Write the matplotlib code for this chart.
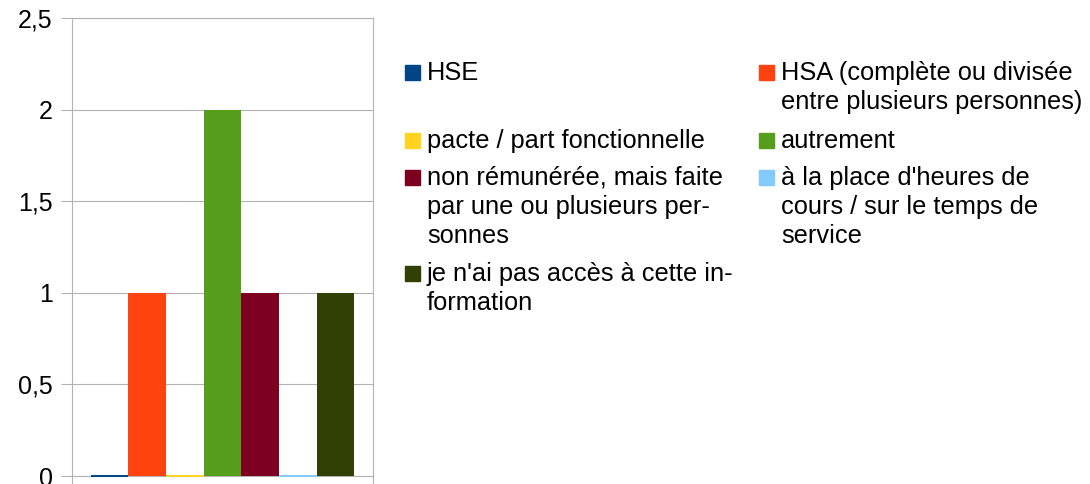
import matplotlib
matplotlib.use("Agg")
import matplotlib.pyplot as plt
from matplotlib.patches import Rectangle

labels = ["HSE",
          "HSA (complète ou divisée\nentre plusieurs personnes)",
          "pacte / part fonctionnelle",
          "autrement",
          "non rémunérée, mais faite\npar une ou plusieurs per-\nsonnes",
          "à la place d'heures de\ncours / sur le temps de\nservice",
          "je n'ai pas accès à cette in-\nformation"]
values = [0, 1, 0, 2, 1, 0, 1]
colors = ["#004586", "#ff420e", "#ffd320", "#579d1c", "#7e0021", "#83caff", "#314004"]
yticks = [0, 0.5, 1, 1.5, 2, 2.5]
ytick_labels = ["0", "0,5", "1", "1,5", "2", "2,5"]

plt.rcParams["font.family"] = ["Liberation Sans", "DejaVu Sans"]
W, H = 1090, 484
fig = plt.figure(figsize=(W / 100, H / 100), dpi=100)
ax = fig.add_axes([72 / W, 1 - 476 / H, (373 - 72) / W, (476 - 18) / H])

gray = "#b3b3b3"
n = len(values)
w = 0.875 / n
for i in range(n):
    # zero values show as a thin coloured line on the axis
    lw = 1.4 if values[i] == 0 else 0
    ax.bar((i - (n - 1) / 2) * w, values[i], width=w, color=colors[i],
           edgecolor=colors[i], linewidth=lw, zorder=3, clip_on=False)

ax.set_xlim(-0.5, 0.5)
ax.set_ylim(0, 2.5)
ax.set_yticks(yticks)
ax.set_yticklabels(ytick_labels)
ax.set_xticks([-0.5, 0.5])
ax.set_xticklabels([])
ax.tick_params(axis="y", length=8, width=0.8, color=gray, labelsize=18, pad=6)
ax.tick_params(axis="x", length=6, width=0.8, color=gray)
ax.grid(axis="y", color=gray, linewidth=0.8, zorder=0)
for s in ax.spines.values():
    s.set_color(gray)
    s.set_linewidth(0.8)
ax.spines["bottom"].set_zorder(2)

# legend, two columns, row-major
col_marker = [405, 759]
col_text = [427, 781]
row_base = [80, 148, 185, 281]
line_h = 29
for i, lab in enumerate(labels):
    c = i % 2
    r = i // 2
    base = row_base[r]
    fig.add_artist(Rectangle((col_marker[c] / W, 1 - base / H), 15 / W, 15 / H,
                             transform=fig.transFigure, color=colors[i]))
    for k, line in enumerate(lab.split("\n")):
        fig.text(col_text[c] / W, 1 - (base + k * line_h) / H, line,
                 fontsize=18.3, va="baseline", ha="left")

fig.savefig("out.png", dpi=100)
